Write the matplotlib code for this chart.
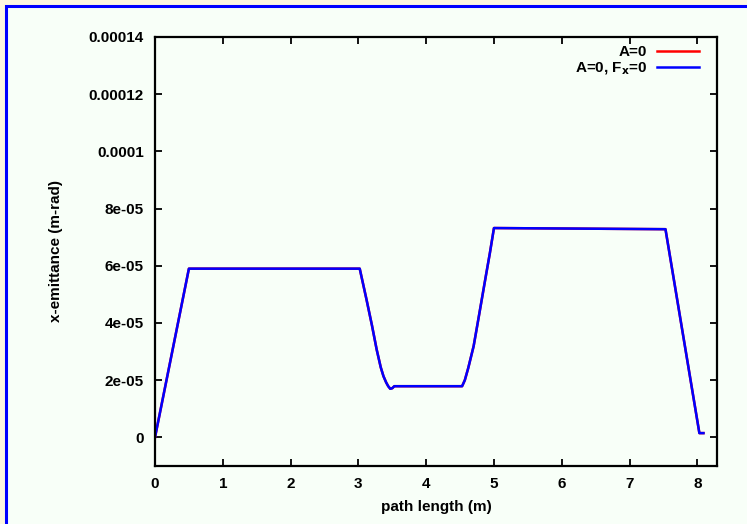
import matplotlib
matplotlib.use("Agg")
import matplotlib.pyplot as plt
from matplotlib.patches import Rectangle

plt.rcParams['font.family'] = ['Liberation Sans', 'DejaVu Sans']
plt.rcParams['font.weight'] = 'bold'
plt.rcParams['font.size'] = 11

# beam x-emittance along the lattice (m, m-rad)
path_s = [0.0, 0.5, 3.02, 3.07, 3.12, 3.20, 3.27, 3.33, 3.37, 3.41, 3.44, 3.47,
          3.50, 3.53, 4.53, 4.57, 4.62, 4.70, 4.76, 4.82, 4.88, 4.94, 5.0,
          7.53, 8.03, 8.09]
emit_a0 = [0.0, 59.0e-6, 59.0e-6, 53.6e-6, 48.2e-6, 39.2e-6, 30.7e-6, 24.5e-6,
           21.4e-6, 19.2e-6, 17.9e-6, 17.0e-6, 17.2e-6, 17.9e-6, 17.9e-6,
           20.0e-6, 24.2e-6, 31.9e-6, 40.0e-6, 48.2e-6, 56.4e-6, 64.5e-6,
           73.2e-6, 72.8e-6, 1.5e-6, 1.5e-6]
emit_a0_fx0 = list(emit_a0)

ytick_vals = [0, 2e-5, 4e-5, 6e-5, 8e-5, 1e-4, 1.2e-4, 1.4e-4]
ytick_text = ["0", "2e-05", "4e-05", "6e-05", "8e-05", "0.0001", "0.00012", "0.00014"]
xtick_vals = [0, 1, 2, 3, 4, 5, 6, 7, 8]

panel_bg = "#f8fff8"

fig = plt.figure(figsize=(7.47, 5.24), dpi=100, facecolor="#fdf7e1")
# panel with blue frame (runs past the right and bottom edges)
fig.patches.append(Rectangle((6 / 747, -0.05), 1.1, 1 - 6 / 524 + 0.05,
                             transform=fig.transFigure, facecolor=panel_bg,
                             edgecolor="#0000ff", linewidth=2.2, zorder=-5))

ax = fig.add_axes([155 / 747, 1 - 466 / 524, 562 / 747, 429 / 524])
ax.set_zorder(2)
ax.set_facecolor(panel_bg)

ax.plot(path_s, emit_a0, color="#ff0000", lw=1.8, label="A=0")
ax.plot(path_s, emit_a0_fx0, color="#0000ff", lw=1.8, label="A=0, F$_\\mathbf{x}$=0")

ax.set_xlim(0, 8.29)
ax.set_ylim(-1e-5, 1.4e-4)
ax.set_xticks(xtick_vals)
ax.set_yticks(ytick_vals)
ax.set_yticklabels(ytick_text)

ax.tick_params(direction="in", length=5, width=1.3, top=True, right=True,
               labelsize=11, pad=8)
for sp in ax.spines.values():
    sp.set_linewidth(1.6)

ax.set_xlabel("path length (m)", fontweight="bold")
ax.set_ylabel("x-emittance (m-rad)", fontweight="bold")
ax.yaxis.set_label_coords(-0.163, 0.5)
ax.xaxis.set_label_coords(0.5, -0.08)

leg = ax.legend(loc="upper right", markerfirst=False, frameon=False,
                handlelength=2.75, handletextpad=0.65, labelspacing=0.05,
                borderaxespad=0.2, borderpad=0.35, fontsize=11,
                bbox_to_anchor=(0.983, 1.0))

fig.savefig("out.png", dpi=100, facecolor=fig.get_facecolor())
